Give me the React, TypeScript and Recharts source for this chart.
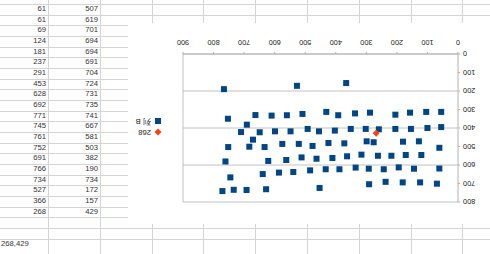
import React from 'react';
import {
  CartesianGrid,
  Legend,
  ReferenceLine,
  Scatter,
  ScatterChart,
  XAxis,
  YAxis,
} from 'recharts';

// column A / column B of the sheet (last rows are the ones visible in the table)
const colA = [
  753, 663, 610, 560, 509, 431, 392, 337, 288, 205, 157, 104, 55,
  710, 649, 599, 548, 492, 455, 403, 351, 302, 259, 205, 154, 100,
  671, 683, 633, 575, 521, 476, 424, 372, 299, 276, 180, 128,
  621, 562, 512, 463, 411, 363, 316, 262, 218, 171, 120,
  639, 586, 539, 484, 433, 388, 335, 292, 243, 194, 144,
  55, 61, 61, 69, 124, 181, 237, 291, 453, 628, 692, 771, 745, 761, 752, 691, 766, 734, 527, 366, 268,
];
const colB = [
  350, 330, 333, 331, 324, 313, 331, 321, 317, 328, 317, 313, 313,
  422, 423, 418, 418, 405, 418, 414, 405, 405, 407, 405, 405, 400,
  463, 501, 503, 486, 486, 497, 481, 483, 472, 477, 474, 472,
  578, 573, 559, 566, 562, 553, 544, 550, 550, 546, 546,
  649, 641, 638, 629, 623, 623, 614, 620, 623, 613, 620,
  395, 507, 619, 701, 694, 694, 691, 704, 724, 731, 735, 741, 667, 581, 503, 382, 190, 734, 172, 157, 429,
];

const seriesBName = '列 B';
const seriesRedName = '268';

const xTicks = [0, 100, 200, 300, 400, 500, 600, 700, 800, 900];
const yTicks = [0, 100, 200, 300, 400, 500, 600, 700, 800];

const BLUE = '#004586';
const RED = '#ff420e';
const AXIS = '#b3b3b3';
const SHEET_LINE = '#d4d4d4';
const FONT = '"Liberation Sans", Arial, sans-serif';

const lastIdx = colA.length - 1;
const bluePoints = colA.slice(0, lastIdx).map((x, i) => ({ x, y: colB[i] }));
const redPoints = [{ x: colA[lastIdx], y: colB[lastIdx] }];

const ROW_H = 10.67;
const colLines = [48, 100, 152, 203.4, 255.2, 307, 358.8, 410.6, 462.4];
const rowLines = Array.from({ length: 23 }, (_, k) => 4 + ROW_H * k);
const visibleRows = colA.slice(-21).map((a, i) => ({ a, b: colB.slice(-21)[i] }));

const SquareDot = (props: any) => {
  const { cx, cy } = props;
  if (cx == null || cy == null) return null;
  return <rect x={cx - 3} y={cy - 3} width={6} height={6} fill={BLUE} />;
};

const DiamondDot = (props: any) => {
  const { cx, cy } = props;
  if (cx == null || cy == null) return null;
  return (
    <path
      d={`M${cx},${cy - 3.5}L${cx + 3.5},${cy}L${cx},${cy + 3.5}L${cx - 3.5},${cy}Z`}
      fill={RED}
    />
  );
};

const LegendBox = () => (
  <div style={{ fontFamily: FONT, fontSize: 7.7, color: '#222', lineHeight: '11px' }}>
    <div style={{ display: 'flex', alignItems: 'center', height: 11 }}>
      <svg width={8} height={8} style={{ marginRight: 3 }}>
        <path d="M4,0.5L7.5,4L4,7.5L0.5,4Z" fill={RED} />
      </svg>
      {seriesRedName}
    </div>
    <div style={{ display: 'flex', alignItems: 'center', height: 11 }}>
      <svg width={8} height={8} style={{ marginRight: 3 }}>
        <rect x={1} y={1} width={6} height={6} fill={BLUE} />
      </svg>
      {seriesBName}
    </div>
  </div>
);

const SheetChart = () => (
  <ScatterChart width={362} height={201} margin={{ top: 22, right: 55, bottom: 0, left: 0 }}>
    <CartesianGrid vertical={false} stroke={AXIS} strokeWidth={0.8} />
    <XAxis
      type="number"
      dataKey="x"
      domain={[0, 900]}
      ticks={xTicks}
      height={31}
      tickSize={2}
      tickMargin={7}
      stroke={AXIS}
      tick={{ fontSize: 7.3, fill: '#222', fontFamily: FONT }}
    />
    <YAxis
      type="number"
      dataKey="y"
      domain={[0, 800]}
      ticks={yTicks}
      width={32}
      tickSize={2}
      tickMargin={3}
      stroke={AXIS}
      tick={{ fontSize: 7.3, fill: '#222', fontFamily: FONT }}
    />
    <ReferenceLine x={900} stroke={AXIS} strokeWidth={0.8} />
    <Legend
      layout="vertical"
      align="center"
      verticalAlign="middle"
      wrapperStyle={{ left: 328, top: 86, width: 40 }}
      content={<LegendBox />}
    />
    <Scatter name={seriesBName} data={bluePoints} shape={SquareDot} isAnimationActive={false} />
    <Scatter name={seriesRedName} data={redPoints} shape={DiamondDot} isAnimationActive={false} />
  </ScatterChart>
);

export default function App() {
  return (
    <div
      style={{
        position: 'fixed',
        left: 0,
        top: 0,
        width: 490,
        height: 254,
        overflow: 'hidden',
        background: '#fff',
        fontFamily: FONT,
      }}
    >
      {colLines.map((x) => (
        <div key={'c' + x} style={{ position: 'absolute', left: x, top: 0, width: 1, height: 254, background: SHEET_LINE }} />
      ))}
      {rowLines.map((y) => (
        <div key={'r' + y} style={{ position: 'absolute', left: 0, top: y, width: 490, height: 1, background: SHEET_LINE }} />
      ))}
      {visibleRows.map((r, i) => {
        const top = 4 + ROW_H * (i - 1);
        const cell = { position: 'absolute' as const, top, height: ROW_H, lineHeight: ROW_H + 'px', fontSize: 7.7, color: '#333', textAlign: 'right' as const };
        return (
          <React.Fragment key={i}>
            <div style={{ ...cell, left: 0, width: 46 }}>{r.a}</div>
            <div style={{ ...cell, left: 50, width: 48 }}>{r.b}</div>
          </React.Fragment>
        );
      })}
      <div style={{ position: 'absolute', left: 1, top: 4 + ROW_H * 22, height: ROW_H, lineHeight: ROW_H + 'px', fontSize: 7.7, color: '#333' }}>
        {colA[lastIdx]},{colB[lastIdx]}
      </div>
      <div
        style={{
          position: 'absolute',
          left: 128,
          top: 23,
          width: 362,
          height: 201,
          background: '#fff',
          transform: 'rotate(180deg)',
        }}
      >
        <SheetChart />
      </div>
    </div>
  );
}
